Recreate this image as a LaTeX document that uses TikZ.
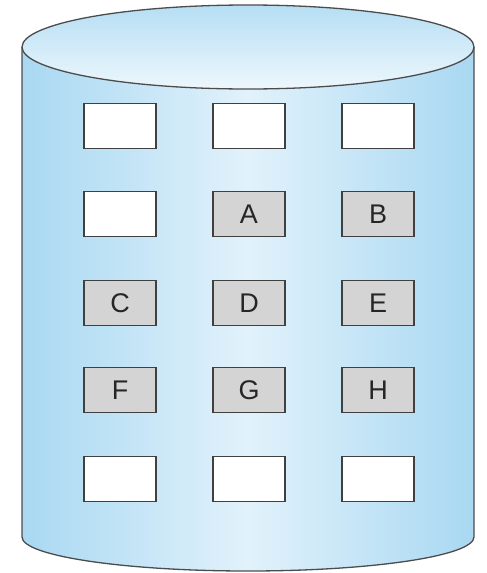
\documentclass[tikz,border=0pt]{standalone}
\usepackage{fontspec}
\setmainfont{Liberation Sans}
\begin{document}
\begin{tikzpicture}[x=1pt,y=-1pt,
  cell/.style={draw=black!75,line width=1.3pt,minimum width=72pt,minimum height=45pt,inner sep=0pt,font=\fontsize{27}{27}\selectfont,text=black!85},
  empty/.style={cell,fill=white},
  full/.style={cell,fill=black!17}]
\definecolor{cedge}{HTML}{A9D8F2}
\definecolor{cmid}{HTML}{E1F2FB}
\useasboundingbox (0,0) rectangle (487,573);
% body
\path[left color=cedge,right color=cedge,middle color=cmid]
  (22,47) -- (22,537) arc[start angle=180,end angle=0,x radius=226,y radius=34] -- (474,47) -- cycle;
\draw[black!70,line width=1.3pt] (22,47) -- (22,537) arc[start angle=180,end angle=0,x radius=226,y radius=34] -- (474,47);
% top
\path[top color=cedge!85!white,bottom color=cmid!60!white] (248,47) ellipse[x radius=226,y radius=42];
\draw[black!70,line width=1.3pt] (248,47) ellipse[x radius=226,y radius=42];
% cells
\node[empty] (r1c1) at (120,126) {};
\node[empty] (r1c2) at (249,126) {};
\node[empty] (r1c3) at (378,126) {};
\node[empty] (r2c1) at (120,214) {};
\node[full] (A) at (249,214) {A};
\node[full] (B) at (378,214) {B};
\node[full] (C) at (120,303) {C};
\node[full] (D) at (249,303) {D};
\node[full] (E) at (378,303) {E};
\node[full] (F) at (120,390) {F};
\node[full] (G) at (249,390) {G};
\node[full] (H) at (378,390) {H};
\node[empty] (r5c1) at (120,479) {};
\node[empty] (r5c2) at (249,479) {};
\node[empty] (r5c3) at (378,479) {};
\end{tikzpicture}
\end{document}
